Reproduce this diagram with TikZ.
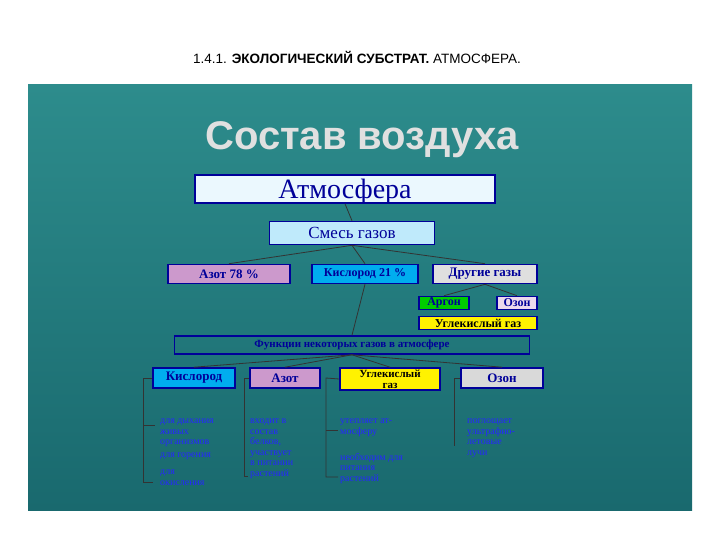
\documentclass[tikz,border=0pt]{standalone}
\usepackage{fontspec}
\setmainfont{Liberation Serif}
\newfontfamily\hsans{Liberation Sans}
\newcommand\fs[1]{\fontsize{#1}{#1}\selectfont}
\begin{document}
\begin{tikzpicture}[x=1pt,y=-1pt,
 bx/.style={draw=blue!60!black,line width=1.6pt,minimum height=#1,inner sep=0pt,text=blue!60!black,font=\bfseries\fs{13}},
 bx/.default=19pt,
 ln/.style={draw=black!80,line width=0.8pt},
 tx/.style={text=blue!85!white,font=\fontsize{10}{10.5}\selectfont,align=left,anchor=north west,inner sep=0pt}]
\useasboundingbox (0,0) rectangle (720,540);
\fill[white] (0,0) rectangle (720,540);
\node[font=\hsans\fs{13.5}] (h) at (357,57) {1.4.1. \textbf{ЭКОЛОГИЧЕСКИЙ СУБСТРАТ.} АТМОСФЕРА.};
\shade[top color={rgb,255:red,45;green,140;blue,140},bottom color={rgb,255:red,25;green,105;blue,110}] (28,85) rectangle (692,510);
\node[font=\hsans\bfseries\fs{40},text=black!12] (t) at (362,140) {Состав воздуха};
\node[bx=28pt,fill=cyan!8,minimum width=300pt,font=\fs{28},text height=17pt,text depth=5pt] (atm) at (345,189) {\raisebox{-4pt}{Атмосфера}};
\node[bx=23pt,fill=cyan!25,minimum width=165pt,font=\fs{17}] (mix) at (352,233) {Смесь газов};
\node[bx,fill=violet!40,minimum width=122pt] (n) at (229,274) {Азот 78 \%};
\node[bx,fill=cyan,minimum width=106pt,font=\bfseries\fs{12}] (o) at (365,274) {Кислород 21 \%};
\node[bx,fill=gray!25,minimum width=104pt] (d) at (485,274) {Другие газы};
\node[bx=13pt,fill=green!80!black,minimum width=50pt,font=\bfseries\fs{12}] (ar) at (444,303) {Аргон};
\node[bx=13pt,fill=violet!15,minimum width=40pt,font=\bfseries\fs{12}] (oz) at (517,303) {Озон};
\node[bx=13pt,fill=yellow,minimum width=118pt,font=\bfseries\fs{12},text=black] (co) at (478,323) {Углекислый газ};
\node[bx=18pt,minimum width=355pt,font=\bfseries\fs{11}] (f) at (352,345) {Функции некоторых газов в атмосфере};
\node[bx=20pt,fill=cyan,minimum width=82pt] (o2) at (194,378) {Кислород};
\node[bx=20pt,fill=violet!40,minimum width=70pt] (n2) at (285,378) {Азот};
\node[bx=22pt,fill=yellow,minimum width=100pt,align=center,font=\bfseries\fs{11},text=black] (c2) at (390,379) {Углекислый\\газ};
\node[bx=20pt,fill=gray!30,minimum width=82pt] (z2) at (502,378) {Озон};
\draw[ln] (atm.south) -- (mix.north);
\draw[ln] (mix.south) -- (n.north);
\draw[ln] (mix.south) -- (o.north);
\draw[ln] (mix.south) -- (d.north);
\draw[ln] (d.south) -- (ar.north);
\draw[ln] (d.south) -- (oz.north);
\draw[ln] (o.south) -- (f.north);
\draw[ln] (f.south) -- (o2.north);
\draw[ln] (f.south) -- (n2.north);
\draw[ln] (f.south) -- (c2.north);
\draw[ln] (f.south) -- (z2.north);
\node[tx] (a1) at (160,419) {для дыхания\\живых\\организмов};
\node[tx] (a2) at (160,453) {для горения};
\node[tx] (a3) at (160,470) {для\\окисления};
\node[tx] (b1) at (250,419) {входит в\\состав\\белков,\\участвует\\в питании\\растений};
\node[tx] (c1) at (340,419) {утепляет ат-\\мосферу};
\node[tx] (c3) at (340,453) {необходим для\\питания\\растений};
\node[tx] (d1) at (467,419) {поглощает\\ультрафио-\\летовые\\лучи};
\coordinate (p1) at (143,378); \coordinate (p2) at (143,482);
\draw[ln] (o2.west) -- (p1) -- (p2) -- +(10,0);
\draw[ln] (143,425) -- +(12,0);
\coordinate (q1) at (244,378);
\draw[ln] (n2.west) -- (q1) -- (244,476) -- +(4,0);
\coordinate (r1) at (326,378);
\draw[ln] (c2.west) -- (r1) -- (326,477) -- +(12,0);
\draw[ln] (326,430) -- +(12,0);
\coordinate (s1) at (454,378);
\draw[ln] (z2.west) -- (s1) -- (454,446);
\end{tikzpicture}
\end{document}
